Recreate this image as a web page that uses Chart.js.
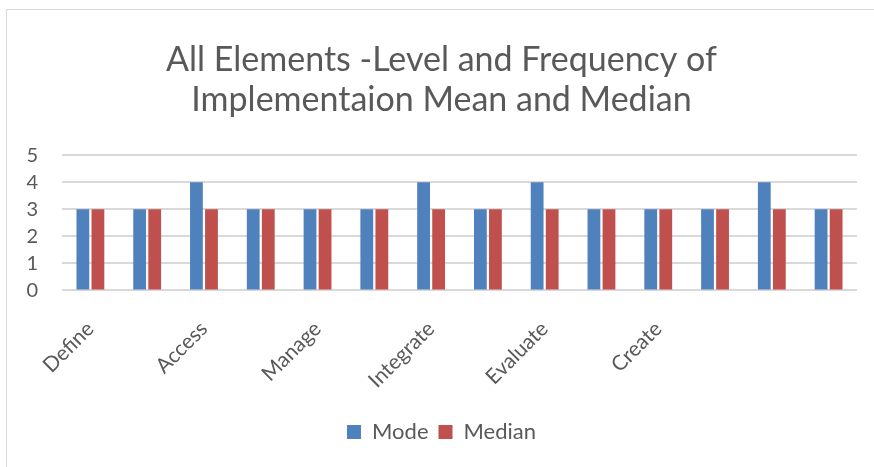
<!DOCTYPE html>
<html>
<head>
<meta charset="utf-8">
<script src="https://cdn.jsdelivr.net/npm/chart.js@4.4.1/dist/chart.umd.min.js"></script>
<style>
  body { margin: 0; background: #fff; }
  #wrap { position: relative; width: 874px; height: 467px; overflow: hidden; }
  #frame { position: absolute; left: 6px; top: 9px; width: 900px; height: 500px; border: 1px solid #d9d9d9; box-sizing: border-box; }
  #chart-elements { position: absolute; left: 0; top: 0; }
</style>
</head>
<body>
<div id="wrap">
  <div id="frame"></div>
  <canvas id="chart-elements" width="874" height="467"></canvas>
</div>
<script>
const categories = ['Define', '', 'Access', '', 'Manage', '', 'Integrate', '', 'Evaluate', '', 'Create', '', '', ''];
const modeValues = [3, 3, 4, 3, 3, 3, 4, 3, 4, 3, 3, 3, 4, 3];
const medianValues = [3, 3, 3, 3, 3, 3, 3, 3, 3, 3, 3, 3, 3, 3];
const yTicks = [0, 1, 2, 3, 4, 5];

const ctx = document.getElementById('chart-elements');
const textColor = '#595959';
const fontName = 'Lato';

new Chart(ctx, {
    type: 'bar',
    data: {
        labels: categories,
        datasets: [
            {
                label: 'Mode',
                data: modeValues,
                backgroundColor: '#4f81bd',
                categoryPercentage: 0.53,
                barPercentage: 0.85
            },
            {
                label: 'Median',
                data: medianValues,
                backgroundColor: '#c0504d',
                categoryPercentage: 0.53,
                barPercentage: 0.85
            }
        ]
    },
    options: {
        responsive: false,
        animation: false,
        layout: {
            padding: { left: 26, right: 17, top: 0, bottom: 14 }
        },
        plugins: {
            title: {
                display: true,
                text: ['All Elements -Level and Frequency of', 'Implementaion Mean and Median'],
                color: textColor,
                font: { family: fontName, size: 34, weight: 'normal', lineHeight: 1.18 },
                padding: { top: 40, bottom: 35 }
            },
            legend: {
                position: 'bottom',
                labels: {
                    color: textColor,
                    font: { family: fontName, size: 22 },
                    boxWidth: 14,
                    boxHeight: 14,
                    padding: 10
                }
            },
            tooltip: { enabled: false }
        },
        scales: {
            x: {
                grid: { display: false },
                border: { display: false },
                ticks: {
                    autoSkip: false,
                    maxRotation: 45,
                    minRotation: 45,
                    color: textColor,
                    font: { family: fontName, size: 21 },
                    padding: 18
                }
            },
            y: {
                min: yTicks[0],
                max: yTicks[yTicks.length - 1],
                afterBuildTicks: function (scale) {
                    scale.ticks = yTicks.map(function (v) { return { value: v }; });
                },
                afterFit: function (scale) {
                    scale.width = 36;
                },
                grid: { color: '#d9d9d9', lineWidth: 2, drawTicks: false },
                border: { display: false },
                ticks: {
                    color: textColor,
                    font: { family: fontName, size: 20 },
                    padding: 24
                }
            }
        }
    }
});
</script>
</body>
</html>
